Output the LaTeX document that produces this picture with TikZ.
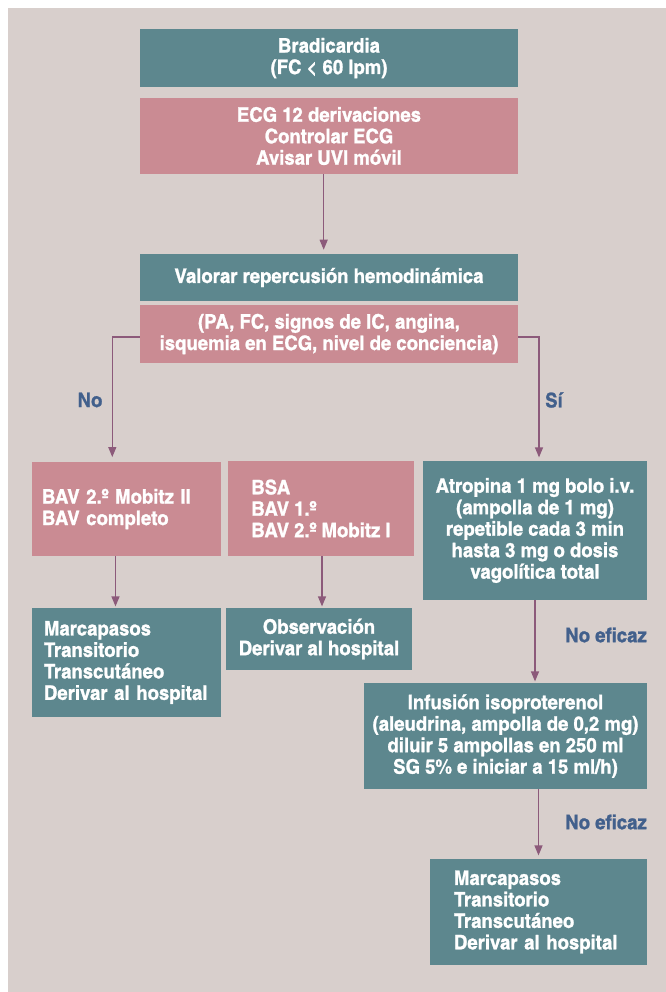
\documentclass[tikz,border=0pt]{standalone}
\usepackage{fontspec}
\setmainfont{TeX Gyre Heros Cn}[FakeStretch=1.13, BoldFeatures={FakeBold=1.2}]
\usetikzlibrary{arrows.meta,positioning}

\definecolor{fondo}{RGB}{216,207,204}
\definecolor{verde}{RGB}{93,135,142}
\definecolor{rosa}{RGB}{202,139,147}
\definecolor{lila}{RGB}{140,90,122}
\definecolor{azul}{RGB}{66,96,140}

\begin{document}
\begin{tikzpicture}[x=0.75pt, y=-0.75pt, font=\bfseries\fontsize{15}{16.1}\selectfont]
        \tikzstyle{caja}=[rectangle, inner sep=0pt, align=center, text=white];
        \tikzstyle{verde}=[caja, fill=verde];
        \tikzstyle{rosa}=[caja, fill=rosa];
        \tikzstyle{flecha}=[draw=lila, line width=0.9pt, -{Triangle[width=6pt,length=7.5pt]}];
        \tikzstyle{etiqueta}=[text=azul, inner sep=0pt];

        \useasboundingbox (0,0) rectangle (666,992);
        \fill[fondo] (8,8) rectangle (666,992);

        % tronco central
        \node[verde, minimum width=283.5pt, minimum height=43.5pt] (brad) at (329,58) {Bradicardia\\(FC < 60 lpm)};
        \node[rosa, minimum width=283.5pt, minimum height=57pt] (ecg) at (329,136) {ECG 12 derivaciones\\Controlar ECG\\Avisar UVI móvil};
        \node[verde, minimum width=283.5pt, minimum height=35.25pt] (valorar) at (329,277.5) {Valorar repercusión hemodinámica};
        \node[rosa, minimum width=283.5pt, minimum height=43.5pt] (signos) at (329,334) {(PA, FC, signos de IC, angina,\\isquemia en ECG, nivel de conciencia)};

        % rama No
        \node[rosa, align=left, text width=126.75pt, inner xsep=7.5pt, minimum height=70.5pt] (bavii) at (126.5,509) {BAV 2.º Mobitz II\\BAV completo};
        \node[rosa, align=left, minimum width=139.5pt, minimum height=71.25pt] (bsa) at (321,508.5) {BSA\\BAV 1.º\\BAV 2.º Mobitz I};
        \node[verde, align=left, text width=123.75pt, inner xsep=9pt, minimum height=81.75pt] (marca1) at (126.5,662.5) {Marcapasos\\Transitorio\\Transcutáneo\\Derivar al hospital};
        \node[verde, minimum width=139.5pt, minimum height=46.5pt] (obs) at (319,639) {Observación\\Derivar al hospital};

        % rama Sí
        \node[verde, minimum width=168pt, minimum height=104.25pt] (atro) at (535,530.5) {Atropina 1 mg bolo i.v.\\(ampolla de 1 mg)\\repetible cada 3 min\\hasta 3 mg o dosis\\vagolítica total};
        \node[verde, minimum width=212.25pt, minimum height=79.5pt] (iso) at (505.5,736) {Infusión isoproterenol\\(aleudrina, ampolla de 0,2 mg)\\diluir 5 ampollas en 250 ml\\SG 5\% e iniciar a 15 ml/h)};
        \node[verde, align=left, text width=126.75pt, inner xsep=18pt, minimum height=79.5pt] (marca2) at (538.5,912) {Marcapasos\\Transitorio\\Transcutáneo\\Derivar al hospital};

        \node[etiqueta] (no) at (90,400) {No};
        \node[etiqueta] (si) at (554,400) {Sí};
        \node[etiqueta] (noef1) at (606,635) {No eficaz};
        \node[etiqueta] (noef2) at (606,822) {No eficaz};

        \draw[flecha, shorten >=3pt] ([xshift=-4pt]ecg.south) -- ([xshift=-4pt]valorar.north);
        \draw[flecha, shorten >=3.5pt] (signos.west |- 0,337) -| ([xshift=-10.65pt]bavii.north);
        \draw[flecha, shorten >=2.5pt] (signos.east |- 0,337) -| ([xshift=3pt]atro.north);
        \draw[flecha, shorten >=1pt] ([xshift=-8.25pt]bavii.south) -- ([xshift=-8.25pt]marca1.north);
        \draw[flecha, shorten >=1pt] ([xshift=0.75pt]bsa.south) -- ([xshift=0.75pt]bsa.south |- obs.north);
        \draw[flecha, shorten >=1pt] (atro.south) -- (atro.south |- iso.north);
        \draw[flecha, shorten >=2.5pt] (iso.south -| marca2.north) -- (marca2.north);
\end{tikzpicture}
\end{document}
